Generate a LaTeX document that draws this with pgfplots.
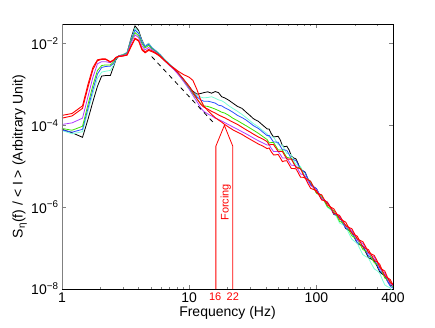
\documentclass[border=0pt]{standalone}
\usepackage{fontspec}
\setmainfont{Liberation Sans}
\usepackage{pgfplots}
\usepackage{pgfplotstable}
\pgfplotsset{compat=1.18}
\usetikzlibrary{calc}

\definecolor{aqua}{RGB}{120,255,215}
\definecolor{mblue}{RGB}{40,80,255}
\definecolor{mgreen}{RGB}{60,225,0}
\definecolor{mpurple}{RGB}{175,60,255}

% f, black, cyan, blue, green, purple, red (upper), red (lower)
\pgfplotstableread{
f k c b g p ra rb
1 8.0e-5 7.5e-5 7.7e-5 8.4e-5 1.05e-4 1.75e-4 1.5e-4
1.2 6.6e-5 6.2e-5 6.8e-5 7.6e-5 1.15e-4 1.95e-4 1.7e-4
1.45 5.1e-5 7.0e-5 8.0e-5 9.5e-5 1.5e-4 3.0e-4 2.6e-4
1.6 1.4e-4 2.2e-4 2.6e-4 3.2e-4 5.0e-4 1.0e-3 8.5e-4
1.75 3.8e-4 6.0e-4 7.5e-4 9.5e-4 1.5e-3 2.6e-3 2.3e-3
1.9 9.0e-4 1.4e-3 1.8e-3 2.2e-3 3.2e-3 4.0e-3 3.8e-3
2.05 1.6e-3 2.0e-3 2.6e-3 2.9e-3 3.6e-3 4.2e-3 4.1e-3
2.2 1.65e-3 2.1e-3 2.75e-3 3.0e-3 3.6e-3 4.2e-3 4.1e-3
2.4 1.65e-3 2.2e-3 2.8e-3 3.0e-3 3.4e-3 3.6e-3 3.5e-3
2.55 2.8e-3 3.0e-3 3.3e-3 3.6e-3 3.9e-3 4.0e-3 3.9e-3
2.65 4.0e-3 4.2e-3 4.3e-3 4.4e-3 4.5e-3 4.6e-3 4.5e-3
2.8 5.0e-3 5.1e-3 5.0e-3 5.0e-3 5.0e-3 4.9e-3 4.8e-3
3.0 5.3e-3 5.3e-3 5.2e-3 5.2e-3 5.1e-3 5.0e-3 4.9e-3
3.25 6.0e-3 6.0e-3 5.9e-3 5.7e-3 5.5e-3 5.3e-3 5.2e-3
3.5 1.4e-2 1.3e-2 1.25e-2 1.15e-2 1.05e-2 9.0e-3 8.5e-3
3.75 2.7e-2 2.37e-2 2.15e-2 1.85e-2 1.63e-2 1.35e-2 1.3e-2
4.0 2.1e-2 1.9e-2 1.75e-2 1.55e-2 1.4e-2 1.2e-2 1.15e-2
4.25 1.2e-2 1.15e-2 1.1e-2 1.0e-2 8.8e-3 7.5e-3 7.0e-3
4.5 8.6e-3 8.8e-3 8.4e-3 7.8e-3 7.0e-3 6.2e-3 5.9e-3
4.8 1.0e-2 1.0e-2 9.6e-3 9.0e-3 8.0e-3 7.2e-3 6.8e-3
5.1 7.8e-3 8.0e-3 7.8e-3 7.4e-3 7.0e-3 6.6e-3 6.3e-3
5.5 6.5e-3 6.6e-3 6.4e-3 6.2e-3 6.0e-3 5.8e-3 5.6e-3
5.9 5.4e-3 5.5e-3 5.3e-3 5.1e-3 5.0e-3 5.0e-3 4.8e-3
6.4 4.0e-3 4.1e-3 4.0e-3 3.9e-3 3.8e-3 3.9e-3 3.8e-3
7.0 3.1e-3 3.2e-3 3.1e-3 3.0e-3 2.9e-3 3.0e-3 3.0e-3
7.6 2.5e-3 2.5e-3 2.4e-3 2.35e-3 2.3e-3 2.4e-3 2.5e-3
8.2 1.9e-3 1.9e-3 1.85e-3 1.8e-3 1.75e-3 1.9e-3 2.1e-3
9.0 1.35e-3 1.3e-3 1.3e-3 1.25e-3 1.2e-3 1.35e-3 1.75e-3
10 8.8e-4 8.5e-4 8.4e-4 8.0e-4 7.6e-4 9.0e-4 1.5e-3
10.7 6.8e-4 6.5e-4 6.3e-4 5.9e-4 5.4e-4 6.5e-4 1.25e-3
11.5 5.8e-4 5.4e-4 5.0e-4 4.4e-4 3.8e-4 4.5e-4 7.5e-4
12.3 6.0e-4 4.9e-4 4.2e-4 3.4e-4 2.7e-4 3.3e-4 4.2e-4
13 6.3e-4 4.7e-4 3.9e-4 3.0e-4 2.2e-4 2.8e-4 3.0e-4
14 6.6e-4 4.8e-4 3.9e-4 2.9e-4 1.9e-4 2.5e-4 2.3e-4
15 6.1e-4 5.0e-4 3.7e-4 2.7e-4 1.7e-4 2.2e-4 1.85e-4
16 6.7e-4 4.6e-4 3.5e-4 2.5e-4 1.5e-4 2.0e-4 1.55e-4
17 6.3e-4 4.2e-4 3.1e-4 2.3e-4 1.4e-4 1.8e-4 1.35e-4
18 5.0e-4 4.0e-4 3.0e-4 2.1e-4 1.28e-4 1.65e-4 1.2e-4
19 4.7e-4 3.6e-4 2.7e-4 2.0e-4 1.17e-4 1.53e-4 1.05e-4
20.5 4.1e-4 3.0e-4 2.4e-4 1.75e-4 1.03e-4 1.35e-4 9.0e-5
22 3.5e-4 2.6e-4 2.1e-4 1.5e-4 9.2e-5 1.2e-4 7.8e-5
24 2.9e-4 2.2e-4 1.75e-4 1.3e-4 8.0e-5 1.05e-4 6.8e-5
26 2.6e-4 1.85e-4 1.55e-4 1.12e-4 7.0e-5 9.0e-5 6.0e-5
28 2.1e-4 1.55e-4 1.35e-4 9.8e-5 6.2e-5 7.8e-5 5.2e-5
30 1.75e-4 1.3e-4 1.15e-4 8.6e-5 5.5e-5 6.9e-5 4.6e-5
32 1.45e-4 1.1e-4 9.8e-5 7.6e-5 4.9e-5 6.1e-5 4.1e-5
35 1.25e-4 9.2e-5 8.4e-5 6.4e-5 4.2e-5 5.2e-5 3.5e-5
38 1.0e-4 7.4e-5 6.8e-5 5.3e-5 3.7e-5 4.6e-5 3.1e-5
41 8.2e-5 6.2e-5 5.6e-5 4.5e-5 3.3e-5 4.0e-5 2.7e-5
42.5 8.1e-5 5.1e-5 5.7e-5 3.7e-5 3.35e-5 3.3e-5 2.8e-5
44 6.4e-5 5.2e-5 4.8e-5 3.8e-5 2.8e-5 3.4e-5 2.3e-5
46 5.2e-5 5.2e-5 3.9e-5 3.8e-5 2.3e-5 3.4e-5 1.9e-5
48 5.3e-5 4.2e-5 3.9e-5 3.1e-5 2.3e-5 2.8e-5 1.9e-5
50 5.4e-5 3.4e-5 3.85e-5 2.5e-5 2.3e-5 2.3e-5 1.95e-5
52 4.4e-5 3.3e-5 3.1e-5 2.5e-5 1.95e-5 2.3e-5 1.6e-5
54 3.2e-5 3.3e-5 2.55e-5 2.5e-5 1.6e-5 2.3e-5 1.3e-5
56 3.0e-5 2.6e-5 2.5e-5 2.05e-5 1.6e-5 1.9e-5 1.35e-5
58.5 3.1e-5 2.05e-5 2.45e-5 1.65e-5 1.6e-5 1.5e-5 1.37e-5
61 2.5e-5 2.0e-5 1.95e-5 1.6e-5 1.3e-5 1.5e-5 1.1e-5
63.5 1.8e-5 1.9e-5 1.5e-5 1.58e-5 1.06e-5 1.5e-5 8.8e-6
66 1.6e-5 1.45e-5 1.45e-5 1.25e-5 1.05e-5 1.2e-5 8.8e-6
69 1.52e-5 1.1e-5 1.38e-5 9.7e-6 1.02e-5 9.4e-6 8.7e-6
72 1.15e-5 1.05e-5 1.08e-5 9.4e-6 8.2e-6 9.0e-6 6.9e-6
75 8.5e-6 9.9e-6 8.3e-6 9.0e-6 6.5e-6 8.7e-6 5.4e-6
78 7.8e-6 7.6e-6 7.8e-6 7.0e-6 6.3e-6 6.8e-6 5.4e-6
81.5 7.2e-6 5.6e-6 7.0e-6 5.2e-6 5.8e-6 5.1e-6 5.2e-6
85 5.2e-6 5.0e-6 5.2e-6 4.8e-6 4.5e-6 4.8e-6 4.0e-6
90 3.6e-6 4.3e-6 3.7e-6 4.2e-6 3.4e-6 4.3e-6 2.9e-6
95 3.1e-6 3.1e-6 3.2e-6 3.0e-6 3.0e-6 3.1e-6 2.7e-6
100 2.85e-6 2.25e-6 2.85e-6 2.2e-6 2.7e-6 2.3e-6 2.55e-6
105 2.1e-6 2.0e-6 2.1e-6 2.0e-6 2.05e-6 2.1e-6 1.95e-6
110 1.6e-6 1.85e-6 1.6e-6 1.9e-6 1.6e-6 2.0e-6 1.5e-6
115 1.5e-6 1.4e-6 1.5e-6 1.45e-6 1.5e-6 1.55e-6 1.45e-6
122 1.31e-6 9.9e-7 1.3e-6 1.03e-6 1.32e-6 1.12e-6 1.32e-6
130 9.2e-7 8.6e-7 9.3e-7 9.0e-7 9.6e-7 1.0e-6 9.6e-7
137 6.7e-7 7.7e-7 6.9e-7 8.2e-7 7.2e-7 9.1e-7 7.1e-7
145 6.2e-7 5.6e-7 6.2e-7 6.1e-7 6.6e-7 6.8e-7 6.7e-7
152 5.8e-7 4.1e-7 5.7e-7 4.5e-7 6.1e-7 5.1e-7 6.3e-7
160 4.3e-7 3.8e-7 4.3e-7 4.2e-7 4.7e-7 4.8e-7 4.8e-7
170 3.0e-7 3.3e-7 3.1e-7 3.7e-7 3.4e-7 4.3e-7 3.5e-7
180 2.7e-7 2.3e-7 2.7e-7 2.7e-7 3.0e-7 3.1e-7 3.2e-7
190 2.43e-7 1.65e-7 2.4e-7 2.0e-7 2.7e-7 2.3e-7 2.97e-7
200 1.75e-7 1.45e-7 1.8e-7 1.8e-7 2.05e-7 2.1e-7 2.2e-7
210 1.3e-7 1.3e-7 1.36e-7 1.67e-7 1.55e-7 1.94e-7 1.65e-7
220 1.2e-7 9.5e-8 1.25e-7 1.25e-7 1.42e-7 1.45e-7 1.55e-7
232 1.09e-7 6.9e-8 1.12e-7 9.2e-8 1.29e-7 1.07e-7 1.43e-7
245 7.8e-8 6.2e-8 8.4e-8 8.4e-8 9.6e-8 9.8e-8 1.05e-7
257 5.8e-8 5.7e-8 6.4e-8 7.8e-8 7.3e-8 9.1e-8 7.8e-8
270 5.4e-8 4.2e-8 5.8e-8 5.9e-8 6.6e-8 6.8e-8 7.2e-8
285 4.9e-8 3.1e-8 5.2e-8 4.4e-8 6.0e-8 5.0e-8 6.6e-8
300 3.6e-8 2.8e-8 3.9e-8 4.0e-8 4.5e-8 4.6e-8 4.9e-8
315 2.6e-8 2.4e-8 2.8e-8 3.5e-8 3.2e-8 4.0e-8 3.4e-8
330 2.3e-8 1.7e-8 2.4e-8 2.5e-8 2.7e-8 2.8e-8 3.0e-8
345 2.15e-8 1.26e-8 2.15e-8 1.85e-8 2.46e-8 2.07e-8 2.74e-8
360 1.6e-8 1.15e-8 1.6e-8 1.7e-8 1.85e-8 1.9e-8 2.0e-8
380 1.24e-8 1.07e-8 1.18e-8 1.52e-8 1.35e-8 1.71e-8 1.44e-8
400 1.2e-8 8.0e-9 1.05e-8 1.1e-8 1.2e-8 1.25e-8 1.3e-8
}\spectra

\begin{document}
\begin{tikzpicture}
\begin{axis}[
  scale only axis,
  width=331pt, height=265pt,
  xmode=log, ymode=log,
  xmin=1, xmax=400,
  ymin=1e-8, ymax=3e-2,
  axis line style={line width=0.8pt},
  tick align=inside,
  major tick length=4pt,
  minor tick length=2.5pt,
  xtick={1,10,100,400},
  xticklabels={1,10,100,400},
  minor xtick={2,3,4,5,6,7,8,9,20,30,40,50,60,70,80,90,200,300},
  extra x ticks={16,22},
  extra x tick labels={16,22},
  extra x tick style={major tick length=0pt,
    xticklabel style={red, font=\fontsize{11}{12}\selectfont}},
  ytick={1e-8,1e-6,1e-4,1e-2},
  yticklabels={10\textsuperscript{−8},10\textsuperscript{−6},10\textsuperscript{−4},10\textsuperscript{−2}},
  yminorticks=false,
  ticklabel style={font=\fontsize{14}{16}\selectfont},
  label style={font=\fontsize{14}{16}\selectfont},
  xlabel={Frequency (Hz)},
  ylabel={S\textsubscript{η}(f) / < I > (Arbitrary Unit)},
  xlabel style={at={(axis description cs:0.5,-0.09)}, anchor=center},
  ylabel style={at={(axis description cs:-0.128,0.5)}, anchor=center},
  every axis plot/.append style={line width=0.8pt},
]
\addplot[black] table[x=f, y=k] {\spectra};
\addplot[aqua] table[x=f, y=c] {\spectra};
\addplot[mblue] table[x=f, y=b] {\spectra};
\addplot[mgreen] table[x=f, y=g] {\spectra};
\addplot[mpurple] table[x=f, y=p] {\spectra};
\addplot[red, line width=0.9pt] table[x=f, y=ra] {\spectra};
\addplot[red, line width=0.9pt] table[x=f, y=rb] {\spectra};
% f^-3 guide
\addplot[black, dash pattern=on 4.5pt off 4pt] coordinates {(5.07,4.8e-3) (15.96,1.06e-4)};
% forcing band
\addplot[red] coordinates {(16.2,1e-8) (16.2,3.1e-5) (18.9,1e-4) (22,3.1e-5) (22,1e-8)};
\node[red, rotate=90, font=\fontsize{11}{12}\selectfont] at (axis cs:19.4,1.32e-6) {Forcing};
\draw[gray, line width=0.8pt] (rel axis cs:0,0) -- (rel axis cs:0,1);
\end{axis}
\pgfresetboundingbox
\useasboundingbox ($(current axis.south west)+(-62pt,-38pt)$) rectangle ($(current axis.north east)+(42pt,24pt)$);
\end{tikzpicture}
\end{document}
